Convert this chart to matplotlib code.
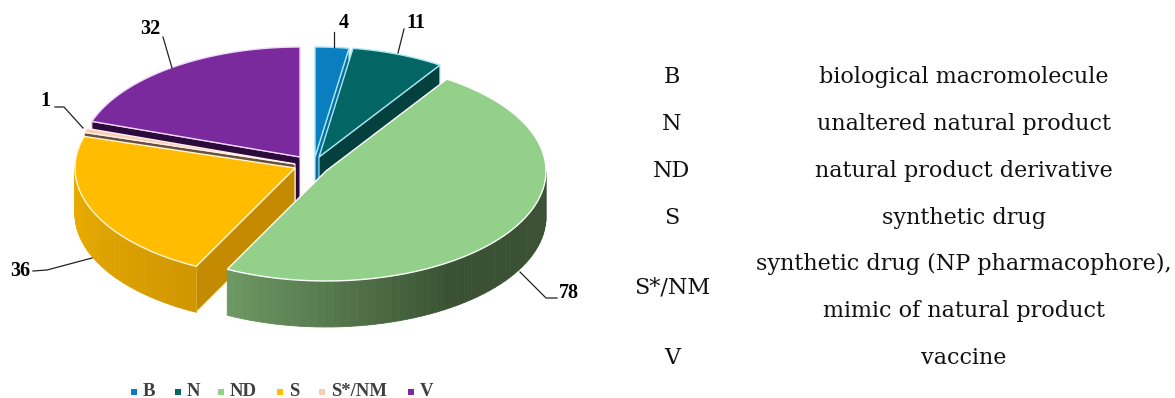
import numpy as np
import matplotlib
matplotlib.use('Agg')
import matplotlib.pyplot as plt
from matplotlib.colors import to_rgb

# Data
categories = ['B', 'N', 'ND', 'S', 'S*/NM', 'V']
values = [4, 11, 78, 36, 1, 32]
descriptions = ['biological macromolecule', 'unaltered natural product',
                'natural product derivative', 'synthetic drug',
                'synthetic drug (NP pharmacophore),', 'mimic of natural product',
                'vaccine']

# Styles
top_colors = ['#0a7fc0', '#036564', '#93d08a', '#ffbc00', '#f9cdb5', '#7a2a9c']
cut_colors = ['#0a6d9e', '#03403e', '#3a5233', '#c48a00', '#6a5040', '#2c0a3c']
edge_colors = ['#a8e6f2', '#a8e6f2', 'white', '#fff6d8', '#fff0e8', '#f0d8f8']

# Pixel geometry of the pie (exploded slice centres)
centers = [(315, 157), (319, 157), (326, 171), (295, 168), (295, 164), (300, 157)]
rx, ry, depth = 220, 110, 46
draw_order = [5, 4, 0, 1, 3, 2]

fig = plt.figure(figsize=(11.75, 3.98), dpi=100)
ax = fig.add_axes([0, 0, 1, 1])
ax.set_xlim(0, 1175)
ax.set_ylim(398, 0)
ax.axis('off')


def rim_point(c, a):
    # a in degrees, clockwise from the top
    t = np.radians(a)
    return c[0] + rx * np.sin(t), c[1] - ry * np.cos(t)


def mix(c1, c2, f):
    c1, c2 = np.array(to_rgb(c1)), np.array(to_rgb(c2))
    return tuple(c1 + (c2 - c1) * f)


def rim_color(i, a):
    if categories[i] == 'ND':
        return mix('#6d9863', '#3a5233', np.clip((206 - a) / 60, 0, 1))
    if categories[i] == 'S':
        return mix('#d09600', '#e8ab00', np.clip((a - 206) / 55, 0, 1))
    return cut_colors[i]


fracs = np.array(values) / sum(values) * 360
starts = np.concatenate([[0], np.cumsum(fracs)[:-1]])

for i in draw_order:
    c = centers[i]
    a0, a1 = starts[i], starts[i] + fracs[i]

    # radial cut faces, only the ones turned to the viewer
    faces = []
    if np.sin(np.radians(a0)) <= 1e-9:
        faces.append(a0)
    if np.sin(np.radians(a1)) > 1e-9:
        faces.append(a1)
    for a in faces:
        x, y = rim_point(c, a)
        ax.fill([c[0], x, x, c[0]], [c[1], y, y + depth, c[1] + depth],
                color=cut_colors[i], lw=0.8, ec=edge_colors[i])

    # outer wall, small quads for the shading
    angles = np.linspace(a0, a1, 80)
    for a, b in zip(angles[:-1], angles[1:]):
        if 90 < (a + b) / 2 < 270:
            xa, ya = rim_point(c, a)
            xb, yb = rim_point(c, b)
            col = rim_color(i, (a + b) / 2)
            ax.fill([xa, xb, xb, xa], [ya, yb, yb + depth, ya + depth],
                    color=col, lw=0.6, ec=col)

    # top face
    xs, ys = rim_point(c, angles)
    ax.fill(np.r_[c[0], xs], np.r_[c[1], ys], color=top_colors[i], lw=1.0, ec=edge_colors[i])

# Leader lines and value labels
serif = 'Liberation Serif'
leaders = [[(334, 47), (334, 32)],
           [(398, 53), (404, 29)],
           [(520, 272), (546, 298), (557, 298)],
           [(92, 258), (47, 270), (33, 271)],
           [(83, 128), (64, 107), (55, 107)],
           [(172, 68), (163, 37)]]
label_pos = [(344, 23), (416, 23), (569, 293), (20, 271), (45, 101), (150, 29)]
for i in range(len(values)):
    pts = np.array(leaders[i])
    ax.plot(pts[:, 0], pts[:, 1], color='#222222', lw=0.9)
    ax.text(label_pos[i][0], label_pos[i][1], str(values[i]), family=serif,
            weight='bold', fontsize=14.5, ha='center', va='center', color='black')

# Legend
marker_x = [134, 178, 221, 280, 322, 411]
for i, cat in enumerate(categories):
    ax.plot(marker_x[i], 392, 's', ms=5, color=top_colors[i], mew=0)
    ax.text(marker_x[i] + 9, 391, cat, family=serif, weight='bold', fontsize=13.5,
            ha='left', va='center', color='#404040')

# Table on the right
table_font = 'DejaVu Serif'
key_y = [77, 124, 171, 218, 288, 358]
for cat, y in zip(categories, key_y):
    ax.text(672, y, cat, family=table_font, fontsize=16, ha='center', va='center', color='#111111')
desc_y = [77, 124, 171, 218, 264, 311, 358]
for d, y in zip(descriptions, desc_y):
    ax.text(964, y, d, family=table_font, fontsize=16, ha='center', va='center', color='#111111')

fig.savefig('out.png', dpi=100)
